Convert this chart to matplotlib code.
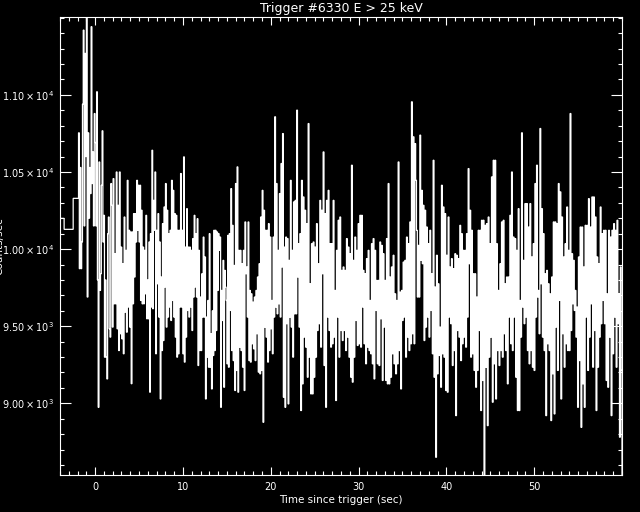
import numpy as np
import matplotlib
matplotlib.use('Agg')
import matplotlib.pyplot as plt

title = 'Trigger #6330 E > 25 keV'
xlabel = 'Time since trigger (sec)'
ylabel = 'Counts/sec'

# coarse pre-trigger bins
coarse_edges = [-4.55, -3.53, -2.50, -1.89]
coarse_rates = [10199, 10128, 10329]

# fine-resolution segments (time span of each, then rates)
seg_bounds = [(-1.89, 5.09), (5.09, 14.20), (14.20, 23.31), (23.31, 32.42),
              (32.42, 41.53), (41.53, 50.65), (50.65, 60.0)]

seg0 = [10754, 9873, 10529, 9873, 10046, 10940, 11420, 10150, 11269, 10600, 11505, 9689,
        10754, 10200, 10529, 10360, 11442, 10425, 10630, 10150, 10879, 10691, 10150, 11020,
        9800, 8974, 10565, 9732, 9840, 10414, 10767, 10046, 10219, 9299, 9800, 9299, 9158,
        10100, 10208, 9483, 9429, 10425, 10284, 9494, 10457, 9645, 9970, 9645, 10500, 9483,
        10284, 9342, 10500, 9451, 10013, 9418, 9905, 9321, 10208, 9591, 9992, 9461, 10446,
        9624, 10122, 9494, 10111, 9127, 10111, 9645, 10230, 9819, 10230, 10046, 10446, 10122,
        10414, 10046]
seg1 = [10414, 9667, 10252, 9645, 10013, 9645, 9992, 9710, 10219, 9548, 9800, 9548, 10046,
        9072, 10100, 9624, 10641, 9613, 10316, 10122, 10500, 9321, 10122, 9775, 10230, 9559,
        10046, 9028, 9819, 9342, 10165, 9407, 10273, 9754, 10425, 9494, 10252, 9559, 10100,
        9624, 10122, 9537, 10446, 9667, 10381, 9559, 10230, 9429, 10219, 9299, 10122, 9321,
        10122, 9624, 10490, 9624, 10122, 9321, 10598, 9267, 10013, 9429, 10262, 9602, 10013,
        9559, 10013, 9624, 9992, 9472, 10068, 9689, 10219, 9754, 10100, 9689, 10197, 9245,
        9992, 9342, 9689, 9342, 9840, 9559, 10078, 9559, 9949, 9028, 9559, 9299, 9667, 9234,
        10100, 9234, 9451, 9093, 9600, 9310, 10122, 9342, 10122, 9472, 10111, 9732, 10100, 9992]
seg2 = [10078, 8974, 9732, 9537, 9927, 9104, 9862, 9754, 9667, 9256, 10089, 9234, 10100,
        9602, 10392, 9342, 10154, 9277, 9894, 9083, 10425, 9213, 10533, 9072, 9992, 9364,
        9992, 9342, 9905, 9234, 9992, 9083, 10176, 9840, 9884, 9559, 10176, 9277, 9732, 9267,
        9710, 9386, 9656, 9353, 9689, 9277, 9732, 9451, 9819, 9202, 9905, 9191, 10208, 9213,
        10381, 8877, 10252, 9494, 10122, 9429, 10122, 9267, 10165, 9342, 10078, 9483, 9667,
        9321, 10078, 9559, 10858, 9624, 10425, 9580, 9992, 9645, 10360, 9559, 10555, 9884,
        10749, 9039, 10013, 8974, 10078, 9516, 10068, 8996, 9927, 9559, 10446, 9494, 9992,
        9299, 10306, 9580, 10316, 9580, 10901, 9819, 10035, 9494]
seg3 = [10100, 8953, 10446, 9126, 10338, 9429, 10252, 9364, 10165, 9169, 10814, 9299, 9775,
        9061, 10035, 9061, 10046, 9169, 10013, 9299, 10165, 9472, 9905, 9516, 10316, 9364,
        10252, 9840, 10630, 9245, 10230, 8974, 10316, 9559, 10381, 9472, 10035, 9364, 10035,
        9386, 10316, 9429, 9732, 9018, 9992, 9559, 10187, 9299, 10208, 9472, 9862, 9407, 9884,
        9472, 9862, 9342, 10068, 9429, 10013, 9299, 9970, 9169, 10544, 9137, 9927, 9299,
        10078, 9537, 9992, 9375, 10165, 9386, 10219, 9364, 10219, 9624, 9862, 9386, 9840,
        9256, 9938, 9364, 9992, 9342, 9667, 9321, 10035, 9256, 10068, 9158, 9992, 9602, 9797,
        9256, 9797, 9245]
seg4 = [10046, 9548, 10024, 9148, 9970, 9494, 9797, 9148, 10068, 9126, 10425, 9126, 9819,
        9169, 9884, 9321, 9960, 9256, 9710, 9191, 9667, 9256, 10565, 9342, 9721, 9093, 9732,
        9537, 9916, 9559, 9927, 9299, 10078, 9429, 10035, 9342, 10176, 9386, 10955, 9451,
        10728, 9386, 10684, 10446, 10122, 9689, 10024, 9689, 10739, 9927, 10381, 9905, 10284,
        9407, 10252, 9494, 10143, 9559, 10035, 9429, 10122, 9602, 9840, 9321, 10576, 9169,
        9754, 8650, 9960, 9191, 9775, 9310, 9494, 9104, 10414, 9321, 10273, 9299, 10230, 9083,
        9960, 9072, 10208, 9559, 9884, 9516, 9938, 9245, 9873, 9342, 9970, 8920, 9960, 9472,
        9938, 9429]
seg5 = [10154, 9277, 10100, 9386, 9992, 9429, 9992, 9364, 10100, 9559, 10522, 9905, 10252,
        9299, 10122, 9321, 9840, 9213, 9840, 9104, 9689, 9213, 10122, 9472, 10122, 8953,
        10187, 9148, 10187, 8535, 10154, 9234, 10165, 8855, 10208, 9299, 10035, 9429, 10468,
        9007, 10576, 9256, 10576, 9028, 10035, 9342, 9732, 9245, 9905, 9342, 10176, 9299,
        10187, 9451, 9775, 9342, 9819, 9126, 9819, 9559, 10219, 9386, 10500, 9342, 10078,
        9559, 10068, 9169, 9992, 8953, 10262, 8953, 9667, 9429, 10754, 9624, 9927, 9516,
        10295, 9559, 10295, 9342, 10143, 9256, 10295, 9342, 9949, 9234, 10035, 9213, 10425,
        9559, 10544, 9689, 9732, 9451]
seg6 = [10782, 9775, 10262, 9429, 10100, 9342, 9840, 8920, 9862, 9386, 9775, 9342, 9710,
        8888, 9819, 9191, 10176, 8931, 10176, 9494, 10165, 9213, 10425, 9667, 10371, 9028,
        10208, 9451, 9949, 9234, 10035, 9386, 10273, 9342, 9992, 9342, 10879, 9472, 9970,
        9645, 9927, 9602, 9732, 9429, 9624, 8974, 9949, 9277, 10143, 8844, 10143, 9126, 9884,
        8974, 10154, 9559, 10154, 9213, 10327, 9429, 10143, 9645, 10338, 9234, 10338, 9472,
        10208, 8953, 9949, 9234, 9905, 9429, 10273, 9516, 10100, 9667, 10122, 9516, 10122,
        9148, 9710, 9104, 10122, 9429, 10078, 8920, 10122, 9321, 10165, 9559, 10122, 9234,
        10187, 9516, 9710, 8780, 9884, 9213]
segments = [seg0, seg1, seg2, seg3, seg4, seg5, seg6]

xticks = [0, 10, 20, 30, 40, 50]
yticks = [9000, 9500, 10000, 10500, 11000]
ytick_labels = [r'$9.00\times10^{3}$', r'$9.50\times10^{3}$', r'$1.00\times10^{4}$',
                r'$1.05\times10^{4}$', r'$1.10\times10^{4}$']

edges = list(coarse_edges)
vals = list(coarse_rates)
for (t0, t1), seg in zip(seg_bounds, segments):
    e = np.linspace(t0, t1, len(seg) + 1)
    edges.extend(e[1:])
    vals.extend(seg)

fig = plt.figure(figsize=(6.4, 5.12), dpi=100, facecolor='black')
ax = fig.add_axes([60 / 640, 1 - 475 / 512, 562 / 640, 458 / 512])
ax.set_facecolor('black')
ax.stairs(vals, edges, color='white', lw=0.9)
ax.set_xlim(-4, 60)
ax.set_ylim(8535, 11505)

ax.set_xticks(xticks)
ax.set_xticks(np.arange(-4, 61, 1), minor=True)
ax.set_yticks(yticks, ytick_labels)
ax.set_yticks(np.arange(8600, 11501, 100), minor=True)
ax.tick_params(which='both', direction='in', colors='white', top=True, right=True,
               labelsize=7, width=0.8)
ax.tick_params(axis='x', which='major', length=6, pad=5)
ax.tick_params(axis='x', which='minor', length=2.7)
ax.tick_params(axis='y', which='major', length=8, pad=4)
ax.tick_params(axis='y', which='minor', length=3)
for s in ax.spines.values():
    s.set_color('white')
    s.set_linewidth(0.8)

ax.set_title(title, color='white', fontsize=9, pad=3.5)
ax.set_xlabel(xlabel, color='white', fontsize=7.5, labelpad=2)
fig.text(4 / 640, 0.5195, ylabel, color='white', fontsize=7.5,
         rotation=90, ha='right', va='center')

fig.savefig('out.png', dpi=100, facecolor='black')
